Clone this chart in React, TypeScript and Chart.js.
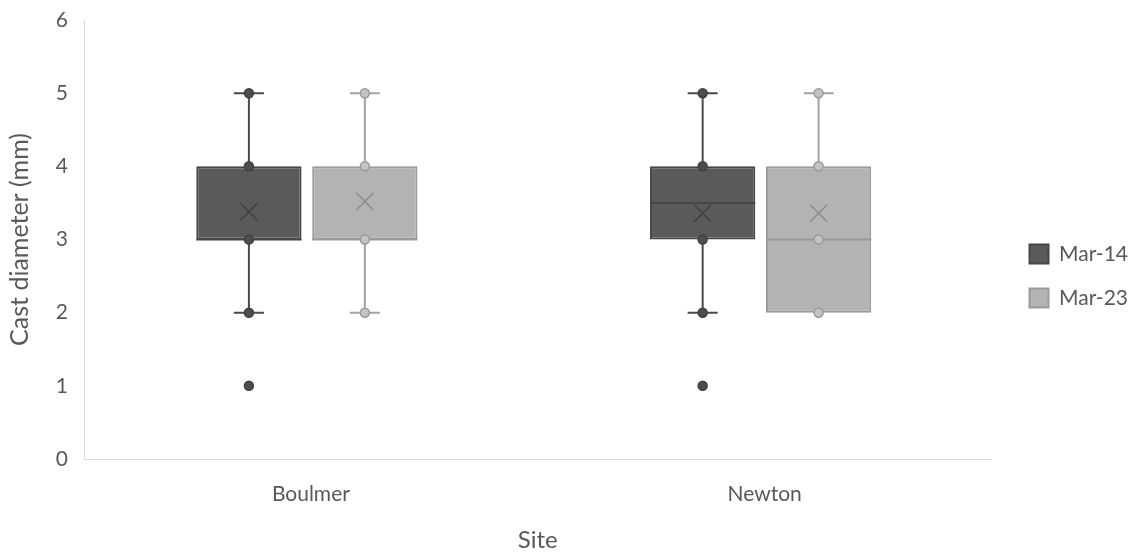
import React, { useEffect, useRef } from "react";
import { Chart, registerables } from "chart.js";

Chart.register(...registerables);

const categories = ["Boulmer", "Newton"];
const seriesNames = ["Mar-14", "Mar-23"];
const yTicks = [0, 1, 2, 3, 4, 5, 6];

const mar14Min = [2, 2];
const mar14Q1 = [3, 3];
const mar14Median = [3, 3.5];
const mar14Q3 = [4, 4];
const mar14Max = [5, 5];
const mar14Mean = [3.38, 3.36];
const mar14Points = [[1, 2, 3, 4, 5], [1, 2, 3, 4, 5]];

const mar23Min = [2, 2];
const mar23Q1 = [3, 2];
const mar23Median = [3, 3];
const mar23Q3 = [4, 4];
const mar23Max = [5, 5];
const mar23Mean = [3.52, 3.36];
const mar23Points = [[2, 3, 4, 5], [2, 3, 4, 5]];

const FONT = "Lato, 'Open Sans', sans-serif";
const TEXT = "#595959";

const styles = [
  { fill: "#5a5a5a", border: "#464646", whisker: "#4a4a4a", mean: "#404040", dotFill: "#4d4d4d", dotStroke: "#404040" },
  { fill: "#b3b3b3", border: "#9a9a9a", whisker: "#a3a3a3", mean: "#8c8c8c", dotFill: "#c4c4c4", dotStroke: "#9a9a9a" },
];

const stats = [
  { min: mar14Min, q1: mar14Q1, med: mar14Median, q3: mar14Q3, max: mar14Max, mean: mar14Mean, pts: mar14Points },
  { min: mar23Min, q1: mar23Q1, med: mar23Median, q3: mar23Q3, max: mar23Max, mean: mar23Mean, pts: mar23Points },
];

const boxPlugin = {
  id: "boxDecor",
  afterLayout(chart: any) {
    if (chart.legend) {
      chart.legend.left += 15;
      chart.legend.right += 15;
    }
    const xb = chart.scales.xBox;
    if (xb) xb._startPixel -= 4;
  },
  afterDatasetsDraw(chart: any) {
    const ctx = chart.ctx;
    const y = chart.scales.y;
    stats.forEach((s, di) => {
      const meta = chart.getDatasetMeta(di);
      const st = styles[di];
      meta.data.forEach((el: any, j: number) => {
        const x = el.x;
        const half = el.width / 2;
        const pMin = y.getPixelForValue(s.min[j]);
        const pQ1 = y.getPixelForValue(s.q1[j]);
        const pQ3 = y.getPixelForValue(s.q3[j]);
        const pMax = y.getPixelForValue(s.max[j]);
        const pMed = y.getPixelForValue(s.med[j]);
        const pMean = y.getPixelForValue(s.mean[j]);
        ctx.save();
        ctx.strokeStyle = st.whisker;
        ctx.lineWidth = 2;
        ctx.beginPath();
        if (s.max[j] > s.q3[j]) {
          ctx.moveTo(x, pQ3);
          ctx.lineTo(x, pMax);
          ctx.moveTo(x - 15, pMax);
          ctx.lineTo(x + 15, pMax);
        }
        if (s.min[j] < s.q1[j]) {
          ctx.moveTo(x, pQ1);
          ctx.lineTo(x, pMin);
          ctx.moveTo(x - 15, pMin);
          ctx.lineTo(x + 15, pMin);
        }
        ctx.stroke();
        ctx.strokeStyle = st.border;
        ctx.beginPath();
        ctx.moveTo(x - half, pMed);
        ctx.lineTo(x + half, pMed);
        ctx.stroke();
        ctx.strokeStyle = st.mean;
        ctx.lineWidth = 1.5;
        const m = 8.5;
        ctx.beginPath();
        ctx.moveTo(x - m, pMean - m);
        ctx.lineTo(x + m, pMean + m);
        ctx.moveTo(x + m, pMean - m);
        ctx.lineTo(x - m, pMean + m);
        ctx.stroke();
        s.pts[j].forEach((v) => {
          const py = y.getPixelForValue(v);
          ctx.beginPath();
          ctx.arc(x, py, 4.5, 0, Math.PI * 2);
          ctx.fillStyle = st.dotFill;
          ctx.fill();
          ctx.lineWidth = 1.5;
          ctx.strokeStyle = st.dotStroke;
          ctx.stroke();
        });
        ctx.restore();
      });
    });
  },
};

export default function App() {
  const ref = useRef<HTMLCanvasElement>(null);
  useEffect(() => {
    if (!ref.current) return;
    const chart = new Chart(ref.current, {
      type: "bar",
      data: {
        labels: categories,
        datasets: seriesNames.map((name, i) => ({
          label: name,
          xAxisID: "xBox",
          data: categories.map((_, j) => [stats[i].q1[j], stats[i].q3[j]]),
          backgroundColor: styles[i].fill,
          borderColor: styles[i].border,
          borderWidth: 2,
          borderSkipped: false,
          categoryPercentage: 0.511,
          barPercentage: 0.908,
        })) as any,
      },
      options: {
        responsive: false,
        animation: false,
        layout: { padding: { left: 5, top: 0, right: 13, bottom: 0 } },
        plugins: {
          tooltip: { enabled: false },
          legend: {
            position: "right",
            labels: {
              boxWidth: 19,
              boxHeight: 19,
              padding: 23,
              color: TEXT,
              font: { family: FONT, size: 21 },
            },
          },
        },
        scales: {
          x: {
            type: "category",
            labels: categories,
            grid: { display: false, drawTicks: false },
            border: { display: true, color: "#d9d9d9", width: 1 },
            ticks: { color: TEXT, font: { family: FONT, size: 21 }, padding: 23 },
            title: { display: true, text: "Site", color: TEXT, font: { family: FONT, size: 24 }, padding: { top: 17, bottom: -3 } },
            afterFit(scale: any) {
              scale.height = 93;
            },
          },
          xBox: {
            type: "category",
            labels: categories,
            display: false,
          },
          y: {
            min: 0,
            max: 6,
            afterBuildTicks(scale: any) {
              scale.ticks = yTicks.map((v) => ({ value: v }));
            },
            grid: { display: false, drawTicks: false },
            border: { display: true, color: "#d9d9d9", width: 1 },
            ticks: { color: TEXT, font: { family: FONT, size: 21 }, padding: 16 },
            title: { display: true, text: "Cast diameter (mm)", color: TEXT, font: { family: FONT, size: 25 }, padding: { top: 0, bottom: 0 } },
            afterFit(scale: any) {
              scale.width = 79;
              scale.paddingTop = 20;
            },
          },
        },
      } as any,
      plugins: [boxPlugin],
    });
    return () => chart.destroy();
  }, []);
  return (
    <div style={{ position: "fixed", left: 0, top: 0, width: 1136, height: 552, background: "#fff" }}>
      <canvas ref={ref} width={1136} height={552} />
    </div>
  );
}
